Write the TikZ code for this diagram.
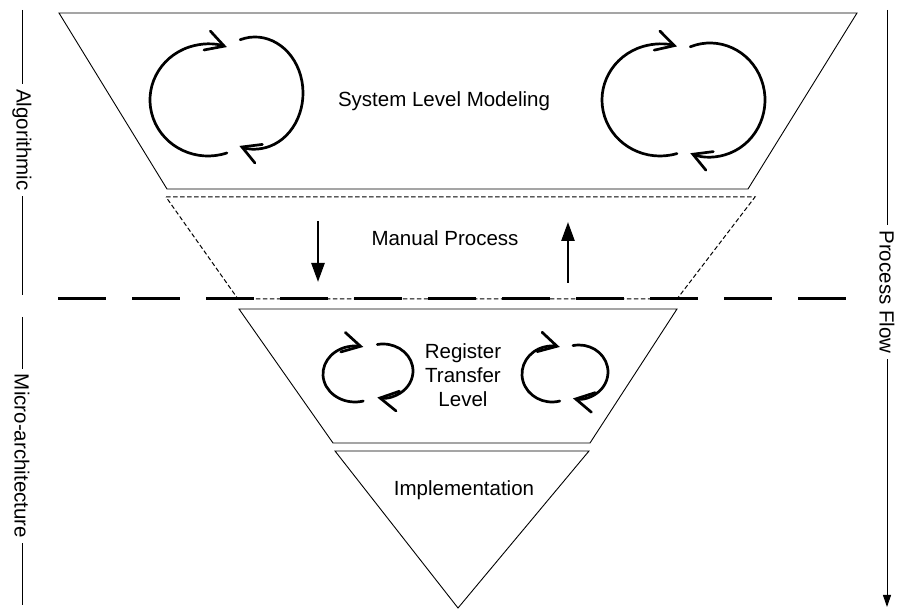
\documentclass[tikz,border=0pt]{standalone}
\usepackage{fontspec}
\setmainfont{Liberation Sans}
\usetikzlibrary{arrows.meta}

\begin{document}
\begin{tikzpicture}[x=1pt,y=-1pt,
  outline/.style={line width=0.9pt, line join=miter},
  guide/.style={line width=1pt, dash pattern=on 4.5pt off 2.5pt},
  boundary/.style={line width=3pt, dash pattern=on 48pt off 26pt},
  loopline/.style={line width=2.7pt, line cap=round,
    -{Straight Barb[length=18pt,width=20pt,line cap=round]}},
  flowarrow/.style={line width=2.6pt, -{Triangle[length=19pt,width=13pt]}},
  label/.style={font=\fontsize{20.5}{24}\selectfont, align=center},
  sidelabel/.style={font=\fontsize{20.5}{24}\selectfont, rotate=-90,
    fill=white, inner xsep=5pt, inner ysep=0pt},
  sideline/.style={line width=1pt}
]
\useasboundingbox (0,0) rectangle (898,609);

% ---- stages ----
% system level modelling (top trapezoid)
\draw[outline] (59,13) -- (857,13) -- (748,189) -- (167,189) -- cycle;
% manual process band (dashed)
\draw[guide] (166,197) -- (755,197) -- (677,299) -- (238,299) -- cycle;
% register transfer level
\draw[outline] (239,309) -- (677,309) -- (590,443) -- (333,443) -- cycle;
% implementation
\draw[outline] (335,451) -- (589,451) -- (458,608) -- cycle;

% boundary between algorithmic and micro-architecture levels
\coordinate (bL) at (58,299);
\coordinate (bR) at (846,299);
\draw[boundary] (bL) -- (bR);

% ---- stage labels ----
\node[label] (sys) at (444,101) {System Level Modeling};
\node[label] (man) at (445,238) {Manual Process};
\node[label] (rtl) at (463,375) {Register\\Transfer\\Level};
\node[label] (impl) at (464,490) {Implementation};

% ---- refinement loops ----
% top left
\draw[loopline] (208,100) ++(289:58pt and 56pt)
  arc[start angle=289, end angle=71, x radius=58pt, y radius=56pt];
\draw[loopline] (255,93) ++(108:48pt and 56pt)
  arc[start angle=108, end angle=-109, x radius=48pt, y radius=56pt];
% top right
\draw[loopline] (660,100) ++(287:58pt and 56pt)
  arc[start angle=287, end angle=73, x radius=58pt, y radius=56pt];
\draw[loopline] (710,100) ++(111:55pt and 57pt)
  arc[start angle=111, end angle=-111, x radius=55pt, y radius=57pt];
% register transfer level, left
\draw[loopline] (355,374) ++(285:32pt and 28pt)
  arc[start angle=285, end angle=75, x radius=32pt, y radius=28pt];
\draw[loopline] (383,371) ++(101:30pt and 27pt)
  arc[start angle=101, end angle=-101, x radius=30pt, y radius=27pt];
% register transfer level, right
\draw[loopline] (552,374) ++(285:30pt and 28pt)
  arc[start angle=285, end angle=75, x radius=30pt, y radius=28pt];
\draw[loopline] (579,372) ++(102:29pt and 27pt)
  arc[start angle=102, end angle=-102, x radius=29pt, y radius=27pt];

% ---- manual transitions ----
\coordinate (dnA) at (318,221);
\coordinate (dnB) at (318,282);
\draw[flowarrow] (dnA) -- (dnB);
\coordinate (upA) at (568,283);
\coordinate (upB) at (568,222);
\draw[flowarrow] (upA) -- (upB);

% ---- side scales ----
\coordinate (algT) at (22,10);
\coordinate (algB) at (22,295);
\draw[sideline] (algT) -- (algB);
\node[sidelabel] (alg) at (22,140) {Algorithmic};

\coordinate (micT) at (22,317);
\coordinate (micB) at (22,605);
\draw[sideline] (micT) -- (micB);
\node[sidelabel] (mic) at (22,456) {Micro-architecture};

\coordinate (flT) at (887,10);
\coordinate (flB) at (887,607);
\draw[sideline, -{Triangle[length=12pt,width=8pt]}] (flT) -- (flB);
\node[sidelabel] (flow) at (887,292) {Process Flow};
\end{tikzpicture}
\end{document}
